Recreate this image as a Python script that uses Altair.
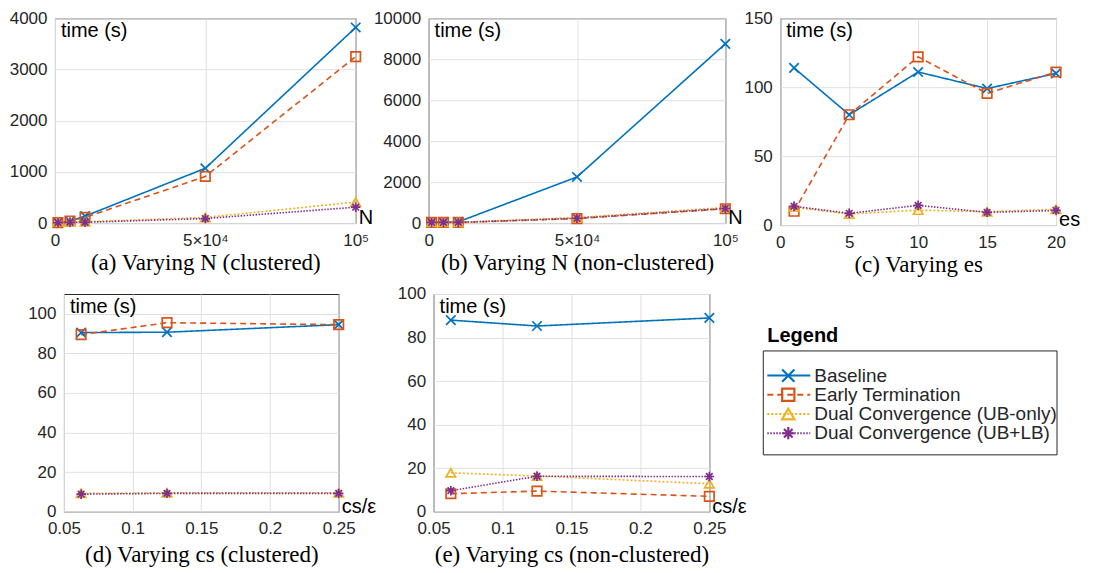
import altair as alt
import pandas as pd

SERIES = ["Baseline", "Early Termination", "Dual Convergence (UB-only)", "Dual Convergence (UB+LB)"]
COLORS = ["#0072BD", "#D95319", "#EDB120", "#7E2F8E"]
DASHES = [[1, 0], [6, 4], [2, 2], [1.5, 1.5]]
SHAPES = [
    "M-1,-1L1,1M-1,1L1,-1",
    "square",
    "triangle-up",
    "M-1,0L1,0M0,-1L0,1M-0.7,-0.7L0.7,0.7M-0.7,0.7L0.7,-0.7",
]

# (a) Varying N (clustered)
N_VALUES = [1000, 5000, 10000, 50000, 100000]
A_BASELINE = [10, 40, 135, 1070, 3820]
A_EARLY = [10, 40, 110, 910, 3250]
A_UB_ONLY = [25, 25, 25, 110, 410]
A_UB_LB = [10, 15, 15, 88, 310]

# (b) Varying N (non-clustered)
B_BASELINE = [50, 50, 60, 2250, 8750]
B_EARLY = [30, 30, 30, 220, 700]
B_UB_ONLY = [35, 35, 35, 270, 760]
B_UB_LB = [30, 30, 30, 235, 710]

# (c) Varying es
ES_VALUES = [1, 5, 10, 15, 20]
C_BASELINE = [114, 80, 111, 99, 110]
C_EARLY = [10, 80, 122, 95.5, 111]
C_UB_ONLY = [13, 8, 10.8, 9.7, 11.5]
C_UB_LB = [13.6, 8.5, 14.3, 9.2, 10.6]

# (d) Varying cs (clustered)
CS_VALUES = [0.0625, 0.125, 0.25]
D_BASELINE = [90.5, 90.7, 94.5]
D_EARLY = [89.5, 95.5, 94.5]
D_UB_ONLY = [9.3, 9.6, 9.6]
D_UB_LB = [8.9, 9.3, 9.3]

# (e) Varying cs (non-clustered)
E_BASELINE = [88.0, 85.3, 89.0]
E_EARLY = [8.3, 9.5, 7.1]
E_UB_ONLY = [17.9, 16.4, 12.9]
E_UB_LB = [9.7, 16.3, 16.2]

CAPTIONS = [
    "(a) Varying N (clustered)",
    "(b) Varying N (non-clustered)",
    "(c) Varying es",
    "(d) Varying cs (clustered)",
    "(e) Varying cs (non-clustered)",
]

color_scale = alt.Scale(domain=SERIES, range=COLORS)
dash_scale = alt.Scale(domain=SERIES, range=DASHES)
shape_scale = alt.Scale(domain=SERIES, range=SHAPES)


def panel(xvals, series_vals, xdom, xticks, ydom, yticks, w, h, caption, xname,
          label_expr=None, xfmt=None, title_pad=3):
    rows = []
    for s, vals in zip(SERIES, series_vals):
        for xv, yv in zip(xvals, vals):
            rows.append({"x": xv, "y": yv, "series": s})
    df = pd.DataFrame(rows)
    axis_kw = dict(values=xticks, title=caption, titlePadding=title_pad, labelFlush=False)
    if label_expr:
        axis_kw["labelExpr"] = label_expr
    if xfmt:
        axis_kw["format"] = xfmt
    base = alt.Chart(df).encode(
        x=alt.X("x:Q", scale=alt.Scale(domain=xdom, nice=False, zero=False), axis=alt.Axis(**axis_kw)),
        y=alt.Y("y:Q", scale=alt.Scale(domain=ydom, nice=False),
                axis=alt.Axis(values=yticks, title=None, format="d")),
        color=alt.Color("series:N", scale=color_scale, legend=None),
    )
    lines = base.mark_line(strokeWidth=1.6).encode(
        strokeDash=alt.StrokeDash("series:N", scale=dash_scale, legend=None)
    )
    pts = base.mark_point(filled=False, size=90, strokeWidth=1.7, opacity=1).encode(
        shape=alt.Shape("series:N", scale=shape_scale, legend=None)
    )
    ytitle = alt.Chart(pd.DataFrame({"t": ["time (s)"]})).mark_text(
        align="left", baseline="top", fontSize=20, color="black", font="Liberation Sans"
    ).encode(x=alt.value(6), y=alt.value(3), text="t:N")
    xtitle = alt.Chart(pd.DataFrame({"t": [xname]})).mark_text(
        align="left", baseline="alphabetic", fontSize=20, color="black", font="Liberation Sans"
    ).encode(x=alt.value(w + 3), y=alt.value(h + 1), text="t:N")
    return alt.layer(lines, pts, ytitle, xtitle).properties(width=w, height=h)


def spacer(w, h):
    return alt.Chart(pd.DataFrame({"s": [0]})).mark_point(opacity=0, size=1).encode(
        x=alt.value(1), y=alt.value(1)
    ).properties(width=w, height=h, view=alt.ViewBackground(stroke="transparent"))


n_expr = "datum.value == 0 ? '0' : datum.value == 50000 ? '5×10⁴' : '10⁵'"

pa = panel(N_VALUES, [A_BASELINE, A_EARLY, A_UB_ONLY, A_UB_LB], [0, 100000], [0, 50000, 100000],
           [0, 4000], [0, 1000, 2000, 3000, 4000], 301, 205, CAPTIONS[0], "N", label_expr=n_expr)
pb = panel(N_VALUES, [B_BASELINE, B_EARLY, B_UB_ONLY, B_UB_LB], [0, 100000], [0, 50000, 100000],
           [0, 10000], [0, 2000, 4000, 6000, 8000, 10000], 297, 205, CAPTIONS[1], "N", label_expr=n_expr)
pc = panel(ES_VALUES, [C_BASELINE, C_EARLY, C_UB_ONLY, C_UB_LB], [0, 20], [0, 5, 10, 15, 20],
           [0, 150], [0, 50, 100, 150], 276, 207, CAPTIONS[2], "es")
pd_ = panel(CS_VALUES, [D_BASELINE, D_EARLY, D_UB_ONLY, D_UB_LB], [0.05, 0.25], [0.05, 0.1, 0.15, 0.2, 0.25],
            [0, 110], [0, 20, 40, 60, 80, 100], 275, 218, CAPTIONS[3], "cs/ε", xfmt="~g", title_pad=7)
pe = panel(CS_VALUES, [E_BASELINE, E_EARLY, E_UB_ONLY, E_UB_LB], [0.05, 0.25], [0.05, 0.1, 0.15, 0.2, 0.25],
           [0, 100], [0, 20, 40, 60, 80, 100], 276, 218, CAPTIONS[4], "cs/ε", xfmt="~g", title_pad=7)

# legend panel (drawn inside a cell as tall as the bottom row)
leg_df = pd.DataFrame({"series": SERIES})
leg_y = alt.Y("series:N", sort=SERIES, scale=alt.Scale(type="point", domain=SERIES, range=[72, 149]), axis=None)
leg_base = alt.Chart(leg_df).encode(
    y=leg_y, color=alt.Color("series:N", scale=color_scale, legend=None)
)
leg_rule = leg_base.mark_rule(strokeWidth=2).encode(
    x=alt.value(4), x2=alt.value(47),
    strokeDash=alt.StrokeDash("series:N", scale=dash_scale, legend=None),
)
leg_pt = leg_base.mark_point(filled=False, size=150, strokeWidth=2.2, opacity=1).encode(
    x=alt.value(25), shape=alt.Shape("series:N", scale=shape_scale, legend=None)
)
leg_txt = alt.Chart(leg_df).mark_text(
    align="left", baseline="middle", fontSize=19, color="#262626", font="Liberation Sans"
).encode(x=alt.value(51), y=leg_y, text="series:N")
leg_title_df = pd.DataFrame({"t": ["Legend"]})
leg_box = alt.Chart(leg_title_df).mark_rect(fillOpacity=0, stroke="#262626", strokeWidth=1).encode(
    x=alt.value(0), x2=alt.value(294), y=alt.value(57), y2=alt.value(161)
)
leg_title = alt.Chart(leg_title_df).mark_text(
    align="left", baseline="alphabetic", fontSize=20, fontWeight="bold", color="black", font="Liberation Sans"
).encode(x=alt.value(4), y=alt.value(48), text="t:N")
legend = alt.layer(leg_box, leg_rule, leg_pt, leg_txt, leg_title).properties(
    width=294, height=218, view=alt.ViewBackground(stroke="transparent")
)

top_row = alt.hconcat(
    spacer(46, 265), pa, spacer(73, 205), pb, spacer(55, 205), pc,
    spacing=0, bounds="flush",
)
bottom_row = alt.hconcat(
    spacer(55, 218), pd_, spacer(95, 218), pe, spacer(54, 218), legend,
    spacing=0, bounds="flush",
)

chart = alt.vconcat(top_row, bottom_row, spacing=0).properties(
    padding={"left": 0, "top": 0, "right": 5, "bottom": 0}
).configure(
    font="Liberation Sans"
).configure_axis(
    grid=True, gridColor="#e0e0e0", domain=False, ticks=False,
    labelFont="Liberation Sans", labelFontSize=17, labelColor="#262626",
    titleFont="Liberation Serif", titleFontSize=23, titleColor="black", titleFontWeight="normal",
).configure_axisX(labelPadding=9).configure_axisY(labelPadding=8).configure_view(
    stroke="#262626", strokeWidth=1
)

chart.save("out.html", embed_options={"renderer": "svg", "actions": False})
